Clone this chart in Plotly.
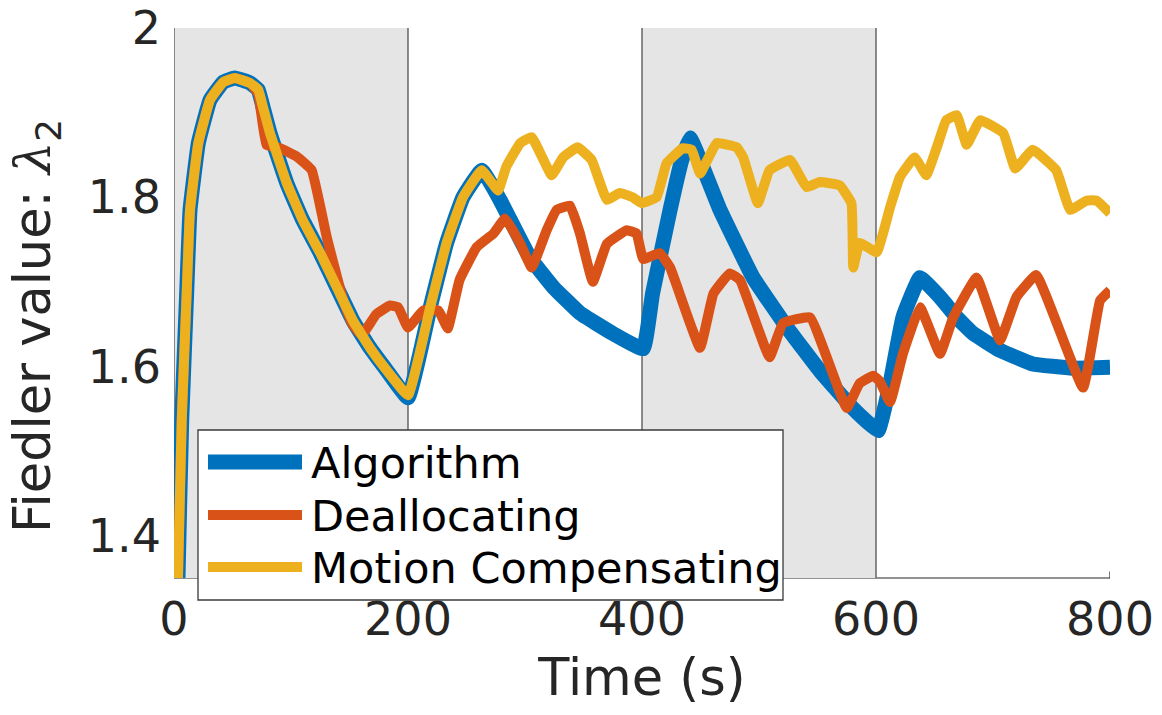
import plotly.graph_objects as go

# Fiedler value (lambda_2) over time for three allocation strategies
algo_t = [0, 3.4, 6.6, 10.8, 13.7, 20.8, 30.8, 42, 52, 65, 72, 76, 82, 96.3, 110, 125, 139,
          153, 167.5, 182, 200, 219, 233, 247, 263, 278.6, 304, 324, 347, 375, 401, 409,
          424, 434, 441, 466.7, 495, 524, 552, 580, 601.7, 612, 623, 637.6, 654.7, 669,
          683, 706, 734, 768, 800]
algo_v = [1.16, 1.35, 1.536, 1.686, 1.785, 1.864, 1.915, 1.936, 1.941, 1.935, 1.927, 1.907,
          1.876, 1.817, 1.773, 1.734, 1.694, 1.654, 1.622, 1.595, 1.563, 1.670, 1.746, 1.800,
          1.832, 1.797, 1.729, 1.694, 1.663, 1.639, 1.621, 1.686, 1.785, 1.844, 1.870, 1.785,
          1.705, 1.646, 1.595, 1.551, 1.524, 1.580, 1.658, 1.705, 1.682, 1.658, 1.639, 1.619,
          1.603, 1.598, 1.599]

dealloc_t = [0, 3.4, 6.6, 10.8, 13.7, 20.8, 30.8, 42, 52, 65, 72, 79, 90.6, 105, 117.7,
             130.5, 144.7, 152, 160.4, 173, 184.6, 191.5, 200, 213, 226, 234, 244, 258.7,
             273, 283, 296, 305.7, 318.5, 327, 338.5, 347, 358, 370, 387, 395.4, 401, 415,
             424, 449.6, 461, 475, 483.8, 509, 520.5, 543.6, 575, 586, 597.6, 603, 612, 623,
             637.6, 654.7, 666, 686, 706, 720, 737, 777, 791.5, 800]
dealloc_v = [1.16, 1.35, 1.536, 1.686, 1.785, 1.864, 1.915, 1.936, 1.941, 1.935, 1.922,
             1.862, 1.858, 1.848, 1.832, 1.753, 1.678, 1.651, 1.637, 1.662, 1.672, 1.670,
             1.646, 1.666, 1.666, 1.645, 1.702, 1.741, 1.757, 1.775, 1.745, 1.717, 1.761,
             1.785, 1.790, 1.757, 1.700, 1.745, 1.761, 1.757, 1.727, 1.734, 1.717, 1.622,
             1.686, 1.710, 1.702, 1.611, 1.651, 1.658, 1.551, 1.580, 1.589, 1.583, 1.558,
             1.615, 1.670, 1.615, 1.658, 1.705, 1.631, 1.682, 1.708, 1.575, 1.678, 1.690]

motion_t = [0, 3.4, 6.6, 10.8, 13.7, 20.8, 30.8, 42, 52, 65, 72, 76, 82, 96.3, 110, 125, 139,
            153, 167.5, 182, 200, 219, 233, 247, 263, 277, 284, 296, 305.7, 322.8, 332.5,
            345, 357, 370, 381, 392, 400, 412.5, 421, 435, 442.5, 449.6, 463.8, 481, 486.5,
            499, 509, 526.5, 540.7, 552, 569, 579, 580.6, 586, 600.6, 612, 620.5, 633, 643,
            652, 660, 669, 677.5, 689, 708.7, 719, 734, 754, 766, 780, 788.6, 800]
motion_v = [1.16, 1.35, 1.536, 1.686, 1.785, 1.864, 1.915, 1.936, 1.941, 1.935, 1.927, 1.907,
            1.876, 1.817, 1.773, 1.734, 1.694, 1.654, 1.622, 1.595, 1.566, 1.670, 1.746,
            1.800, 1.832, 1.808, 1.836, 1.864, 1.871, 1.826, 1.847, 1.859, 1.844, 1.797,
            1.805, 1.800, 1.793, 1.800, 1.840, 1.858, 1.856, 1.828, 1.864, 1.859, 1.847,
            1.793, 1.832, 1.844, 1.812, 1.818, 1.814, 1.793, 1.717, 1.746, 1.735, 1.788,
            1.824, 1.847, 1.826, 1.859, 1.891, 1.897, 1.862, 1.891, 1.876, 1.834, 1.856,
            1.832, 1.785, 1.796, 1.796, 1.781]

series_names = ["Algorithm", "Deallocating", "Motion Compensating"]
series_colors = ["#0072BD", "#D95319", "#EDB120"]
series_widths = [15, 10, 10]

shaded_intervals = [(0, 200), (400, 600)]
x_ticks = [0, 200, 400, 600, 800]
y_ticks = [1.4, 1.6, 1.8, 2.0]
y_tick_text = ["1.4", "1.6", "1.8", "2"]
x_range = [0, 800]
y_range = [1.35, 2.0]

AX_COLOR = "#262626"
FONT = "DejaVu Sans"

fig = go.Figure()
for t, v, name, color, w in zip([algo_t, dealloc_t, motion_t],
                                [algo_v, dealloc_v, motion_v],
                                series_names, series_colors, series_widths):
    fig.add_trace(go.Scatter(x=t, y=v, mode="lines", name=name, showlegend=False,
                             line=dict(color=color, width=w, shape="spline", smoothing=0.3)))

shapes = []
# bottom axis line with its end tick (partly hidden by the shaded bands / legend)
shapes.append(dict(type="line", xref="x", yref="paper", x0=x_range[0], x1=x_range[1],
                   y0=0, y1=0, line=dict(color=AX_COLOR, width=1.2), layer="below"))
shapes.append(dict(type="line", xref="x", yref="paper", x0=x_range[1], x1=x_range[1],
                   y0=0, y1=0.012, line=dict(color=AX_COLOR, width=1.2), layer="below"))
# shaded time intervals
for a, b in shaded_intervals:
    shapes.append(dict(type="rect", xref="x", yref="paper", x0=a, x1=b, y0=0, y1=1,
                       fillcolor="#e5e5e5", line=dict(width=0), layer="below"))
for a, b in shaded_intervals:
    for edge in (a, b):
        shapes.append(dict(type="line", xref="x", yref="paper", x0=edge, x1=edge,
                           y0=0, y1=1, line=dict(color="#5c5c5c", width=1.4),
                           layer="below"))

# legend box drawn by hand so the line samples keep their length
def px_x(px):
    return (px - 174) / 936.0

def px_y(py):
    return (578 - py) / 550.0

shapes.append(dict(type="rect", xref="paper", yref="paper",
                   x0=px_x(198), x1=px_x(783), y0=px_y(600), y1=px_y(430),
                   fillcolor="white", line=dict(color="#3a3a3a", width=1.3), layer="above"))
annotations = []
row_y = [462, 515, 567]
for name, color, w, ry in zip(series_names, series_colors, series_widths, row_y):
    shapes.append(dict(type="line", xref="paper", yref="paper",
                       x0=px_x(208), x1=px_x(302), y0=px_y(ry), y1=px_y(ry),
                       line=dict(color=color, width=w), layer="above"))
    annotations.append(dict(xref="paper", yref="paper", x=px_x(309), y=px_y(ry + 1),
                            xanchor="left", yanchor="middle", showarrow=False, text=name,
                            font=dict(family=FONT, size=43, color="black")))

# y axis label
annotations.append(dict(xref="paper", yref="paper", x=px_x(36), y=px_y(326),
                        xanchor="center", yanchor="middle", showarrow=False,
                        textangle=-90,
                        text="Fiedler value: <span style=\"font-family:'DejaVu Serif';font-style:italic\">λ</span><sub>2</sub>",
                        font=dict(family=FONT, size=51, color=AX_COLOR)))

fig.update_layout(
    width=1162, height=715,
    margin=dict(l=174, r=52, t=28, b=137, autoexpand=False),
    paper_bgcolor="white", plot_bgcolor="white",
    font=dict(family=FONT, color=AX_COLOR),
    shapes=shapes, annotations=annotations,
    showlegend=False,
    xaxis=dict(range=x_range, tickvals=x_ticks, ticktext=[str(v) for v in x_ticks],
               showgrid=False, zeroline=False, showline=False, ticks="",
               automargin=False,
               tickfont=dict(family=FONT, size=46, color=AX_COLOR),
               ticklabelstandoff=10,
               title=dict(text="Time (s)", font=dict(family=FONT, size=51, color=AX_COLOR),
                          standoff=14)),
    yaxis=dict(range=y_range, tickvals=y_ticks, ticktext=y_tick_text,
               showgrid=False, zeroline=False, showline=False, ticks="",
               automargin=False,
               tickfont=dict(family=FONT, size=46, color=AX_COLOR),
               ticklabelstandoff=12),
)

fig.write_html("out.html")
